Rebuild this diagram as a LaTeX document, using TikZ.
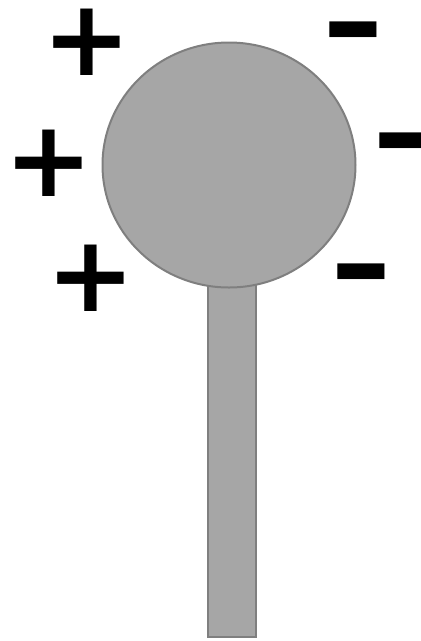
\documentclass[tikz,border=0pt]{standalone}
\usepackage{fontspec}
\setmainfont{DejaVu Sans}
\usetikzlibrary{shapes.geometric}

\definecolor{ballgray}{HTML}{A6A6A6}
\definecolor{edgegray}{HTML}{7F7F7F}

\newcommand*{\plussize}{\fontsize{106}{106}\selectfont\bfseries}
\newcommand*{\minussize}{\fontsize{96}{96}\selectfont\bfseries}

\begin{document}
\begin{tikzpicture}
[
	x=1pt,y=-1pt,
	ball/.style={ellipse,draw=edgegray,fill=ballgray,line width=2pt,inner sep=0pt,minimum width=253pt,minimum height=245pt},
	stem/.style={rectangle,draw=edgegray,fill=ballgray,line width=2pt,inner sep=0pt,minimum width=48pt,minimum height=397pt},
	pluscharge/.style={inner sep=0pt,font=\plussize,yshift=-2pt},
	minuscharge/.style={inner sep=0pt,font=\minussize,yshift=-13pt,xscale=1.6,yscale=1.15,transform shape}
]

	\useasboundingbox (0,0) rectangle (421,641);

	% electroscope
	\node[stem] (stem) at (232,438.5) {};
	\node[ball] (ball) at (229,165) {};

	% charges on the left
	\node[pluscharge] (plusA) at (87,40) {+};
	\node[pluscharge] (plusB) at (49,161) {+};
	\node[pluscharge] (plusC) at (91,276) {+};

	% charges on the right
	\node[minuscharge] (minusA) at (353,28.5) {-};
	\node[minuscharge] (minusB) at (403,139.5) {-};
	\node[minuscharge] (minusC) at (361,271) {-};

\end{tikzpicture}
\end{document}
